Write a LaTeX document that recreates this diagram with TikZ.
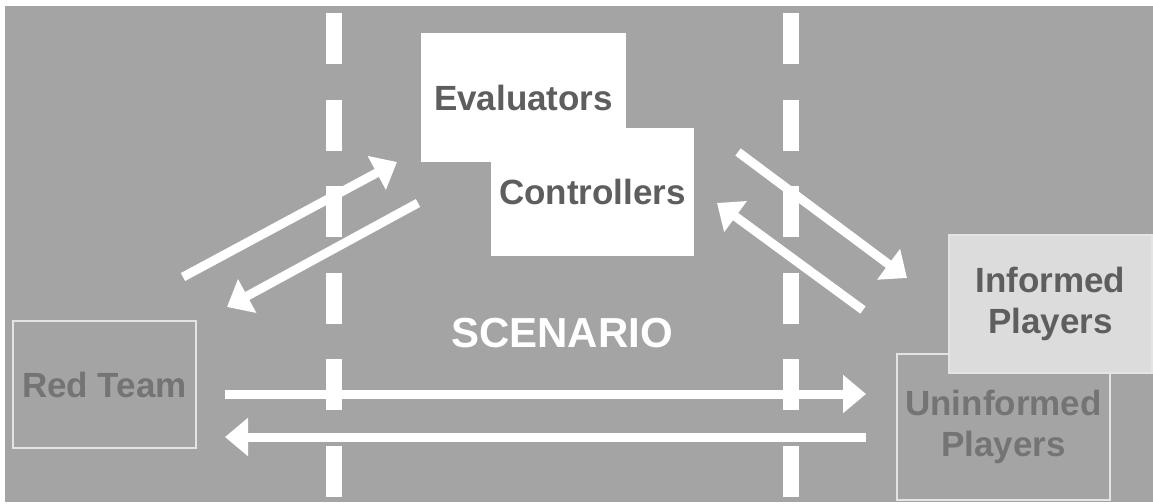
\documentclass[tikz,border=0pt]{standalone}
\usepackage{fontspec}
\setmainfont{Liberation Sans}
\usetikzlibrary{arrows.meta}
\definecolor{bg}{HTML}{A4A4A4}
\definecolor{txtdark}{HTML}{5E5E5E}
\definecolor{txtmid}{HTML}{747474}
\definecolor{boxline}{HTML}{E4E4E4}
\definecolor{infofill}{HTML}{DCDCDC}
\tikzset{
  lbl/.style={font=\fontsize{35}{41}\selectfont\bfseries, align=center, inner sep=0pt},
  whitebox/.style={fill=white, draw=none, lbl, text=txtdark},
  greybox/.style={fill=bg, draw=boxline, line width=1.5pt, lbl, text=txtmid},
  infobox/.style={fill=infofill, draw=boxline, line width=1.5pt, lbl, text=txtdark},
  divider/.style={draw=white, line width=16pt, dash pattern=on 51pt off 35.5pt},
  flow/.style={draw=white, line width=9pt, -{Triangle[length=23pt, width=37pt]}},
}
\begin{document}
\begin{tikzpicture}[x=1pt,y=-1pt]
\useasboundingbox (0,0) rectangle (1153,503);
\fill[bg] (5,6) rectangle (1153,502);
% dashed dividers
\draw[divider] (333.5,13) -- (333.5,497);
\draw[divider] (790.5,13) -- (790.5,497);
% boxes
\node[whitebox, minimum width=205pt, minimum height=129pt] (eval) at (523.5,97.5) {Evaluators};
\node[whitebox, minimum width=203pt, minimum height=128pt] (ctrl) at (592.5,192) {Controllers};
\node[greybox, minimum width=183pt, minimum height=127pt] (red) at (104.5,384.5) {Red Team};
\node[greybox, minimum width=213pt, minimum height=146pt] (unin) at (1003.5,427) {Uninformed\\Players};
\node[infobox, minimum width=203pt, minimum height=138pt] (info) at (1050.5,304) {Informed\\Players};
\node[lbl, text=white, font=\fontsize{42}{48}\selectfont\bfseries] (scen) at (562,333) {SCENARIO};
% arrow endpoints
\coordinate (a1s) at (183,277); \coordinate (a1e) at (397,162);
\coordinate (a2s) at (418,203); \coordinate (a2e) at (227,307);
\coordinate (a3s) at (738,152); \coordinate (a3e) at (907,278);
\coordinate (a4s) at (863,310); \coordinate (a4e) at (717,203);
\coordinate (h1s) at (225,394); \coordinate (h1e) at (866,394);
\coordinate (h2s) at (866,437); \coordinate (h2e) at (225,437);
\draw[flow] (a1s) -- (a1e);
\draw[flow] (a2s) -- (a2e);
\draw[flow] (a3s) -- (a3e);
\draw[flow] (a4s) -- (a4e);
\draw[flow] (h1s) -- (h1e);
\draw[flow] (h2s) -- (h2e);
\end{tikzpicture}
\end{document}
